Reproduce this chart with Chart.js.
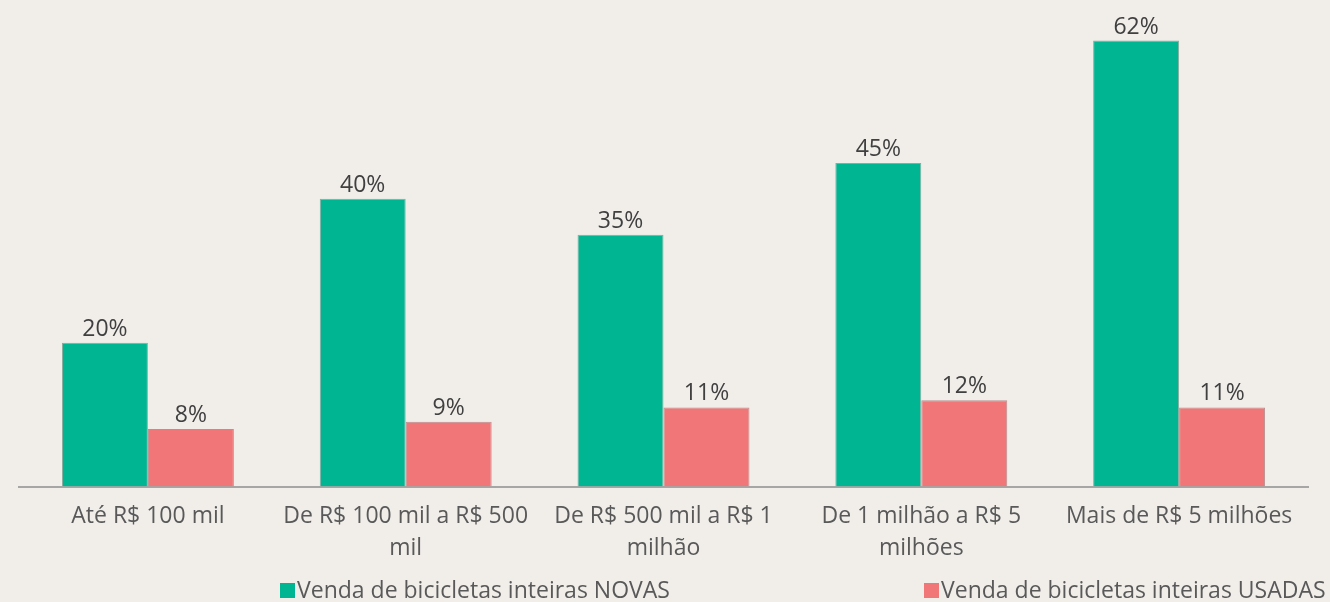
<!DOCTYPE html>
<html lang="pt-BR">
<head>
<meta charset="utf-8">
<title>Venda de bicicletas por faixa de faturamento</title>
<script src="https://cdn.jsdelivr.net/npm/chart.js@4.4.1/dist/chart.umd.min.js"></script>
<style>
  html, body { margin: 0; padding: 0; background: #f1eeea; }
  #wrap { width: 1330px; height: 602px; }
</style>
</head>
<body>
<div id="wrap"><canvas id="vendasChart" width="1330" height="602"></canvas></div>
<script>
const faixas = [
  ['Até R$ 100 mil'],
  ['De R$ 100 mil a R$ 500', 'mil'],
  ['De R$ 500 mil a R$ 1', 'milhão'],
  ['De 1 milhão a R$ 5', 'milhões'],
  ['Mais de R$ 5 milhões']
];
const novas = [20, 40, 35, 45, 62];
const usadas = [8, 9, 11, 12, 11];
const nomeNovas = 'Venda de bicicletas inteiras NOVAS';
const nomeUsadas = 'Venda de bicicletas inteiras USADAS';

const FONT = '"Open Sans", sans-serif';

// percent labels over each bar
const rotulos = {
  id: 'rotulos',
  afterDatasetsDraw(chart) {
    const ctx = chart.ctx;
    ctx.save();
    ctx.font = '23px ' + FONT;
    ctx.fillStyle = '#404040';
    ctx.textAlign = 'center';
    ctx.textBaseline = 'alphabetic';
    chart.data.datasets.forEach((ds, i) => {
      chart.getDatasetMeta(i).data.forEach((bar, j) => {
        ctx.fillText(ds.data[j] + '%', bar.x, bar.y - 7);
      });
    });
    ctx.restore();
  }
};

// legend spread along the bottom edge
const legenda = {
  id: 'legenda',
  afterDraw(chart) {
    const ctx = chart.ctx;
    const slots = [280, 924];
    ctx.save();
    ctx.font = '23px ' + FONT;
    ctx.textBaseline = 'alphabetic';
    chart.data.datasets.forEach((ds, i) => {
      const x = slots[i];
      ctx.fillStyle = ds.backgroundColor;
      ctx.fillRect(x, 583, 15, 15);
      ctx.fillStyle = '#595959';
      ctx.fillText(ds.label, x + 17, 598);
    });
    ctx.restore();
  }
};

new Chart(document.getElementById('vendasChart'), {
  type: 'bar',
  data: {
    labels: faixas,
    datasets: [
      {
        label: nomeNovas,
        data: novas,
        backgroundColor: '#00b592',
        borderColor: '#8fa89e',
        borderWidth: 1
      },
      {
        label: nomeUsadas,
        data: usadas,
        backgroundColor: '#f07677',
        borderColor: '#b89090',
        borderWidth: 1
      }
    ]
  },
  options: {
    responsive: false,
    animation: false,
    devicePixelRatio: 1,
    layout: { padding: { left: 19, right: 22, top: 19, bottom: 23 } },
    datasets: { bar: { categoryPercentage: 0.667, barPercentage: 1 } },
    plugins: {
      legend: { display: false },
      tooltip: { enabled: false }
    },
    scales: {
      x: {
        grid: { display: false, drawTicks: false },
        border: { display: true, color: '#a6a6a6', width: 2 },
        ticks: {
          color: '#595959',
          padding: 14,
          maxRotation: 0,
          autoSkip: false,
          font: { family: FONT, size: 23, lineHeight: 1.4 }
        }
      },
      y: {
        display: false,
        min: 0,
        max: 65
      }
    }
  },
  plugins: [rotulos, legenda]
});
</script>
</body>
</html>
